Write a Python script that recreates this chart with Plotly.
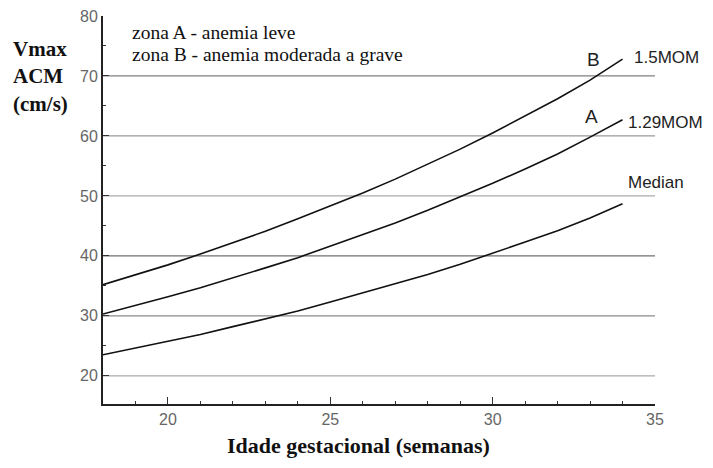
import plotly.graph_objects as go

weeks = list(range(18, 35))
median = [23.5, 24.6, 25.7, 26.9, 28.2, 29.5, 30.8, 32.3, 33.8, 35.3, 36.9, 38.6, 40.4, 42.3, 44.2, 46.3, 48.7]
mom129 = [30.3, 31.7, 33.2, 34.7, 36.3, 38.0, 39.7, 41.6, 43.5, 45.5, 47.6, 49.8, 52.1, 54.5, 57.0, 59.8, 62.7]
mom15 = [35.2, 36.8, 38.5, 40.3, 42.2, 44.1, 46.2, 48.3, 50.5, 52.8, 55.3, 57.8, 60.5, 63.3, 66.2, 69.3, 72.8]

series_names = ["Median", "1.29MOM", "1.5MOM"]
grid_vals = [20, 30, 40, 50, 60, 70]
grid_cols = ["#aaaaaa", "#8a8a8a", "#707070", "#aaaaaa", "#999999", "#808080"]
x_ticks = [20, 25, 30, 35]
y_ticks = [20, 30, 40, 50, 60, 70, 80]

fig = go.Figure()
for name, vals in zip(series_names, [median, mom129, mom15]):
    fig.add_trace(go.Scatter(x=weeks, y=vals, mode="lines", name=name,
                             line=dict(color="#111111", width=1.6), showlegend=False))

for v, c in zip(grid_vals, grid_cols):
    fig.add_shape(type="line", xref="x", yref="y", x0=18, x1=35, y0=v, y1=v,
                  line=dict(color=c, width=1.2), layer="below")

tickfont = dict(family="Liberation Sans, Arial", size=16, color="#666")
fig.update_layout(
    width=705, height=460,
    margin=dict(l=95, r=58, t=8, b=64),
    plot_bgcolor="white", paper_bgcolor="white",
    xaxis=dict(range=[18, 35], tickvals=x_ticks, showgrid=False, zeroline=False,
               showline=True, linecolor="#222", linewidth=2, automargin=False,
               ticks="inside", ticklen=7, tickwidth=1.2, tickcolor="#333",
               minor=dict(dtick=1, ticks="inside", ticklen=3, tickcolor="#333", showgrid=False),
               tickfont=tickfont, ticklabeloverflow="allow"),
    yaxis=dict(range=[15.3, 80], tickvals=y_ticks, showgrid=False, zeroline=False,
               showline=True, linecolor="#222", linewidth=2, automargin=False,
               ticks="inside", ticklen=6, tickwidth=1.2, tickcolor="#333",
               minor=dict(tick0=15, dtick=5, ticks="inside", ticklen=3, tickcolor="#333", showgrid=False),
               tickfont=tickfont, ticklabeloverflow="allow"),
)

serif = "Liberation Serif, Times New Roman, serif"
sans = "Liberation Sans, Arial, sans-serif"
anns = [
    dict(text="<b>Vmax<br>ACM<br>(cm/s)</b>", xref="paper", yref="paper", x=-0.114, y=0.845,
         xanchor="center", yanchor="middle", align="left",
         font=dict(family=serif, size=21, color="#111")),
    dict(text="<b>Idade gestacional (semanas)</b>", xref="paper", yref="paper", x=0.462, y=-0.106,
         xanchor="center", yanchor="middle", font=dict(family=serif, size=22, color="#111")),
    dict(text="zona A - anemia leve", xref="paper", yref="paper", x=0.049, y=0.958,
         xanchor="left", yanchor="middle", font=dict(family=serif, size=19.5, color="#111")),
    dict(text="zona B - anemia moderada a grave", xref="paper", yref="paper", x=0.049, y=0.902,
         xanchor="left", yanchor="middle", font=dict(family=serif, size=19.5, color="#111")),
    dict(text="1.5MOM", x=34.28, y=73.0, xanchor="left", yanchor="middle",
         font=dict(family=sans, size=17, color="#222")),
    dict(text="1.29MOM", x=34.12, y=62.3, xanchor="left", yanchor="middle",
         font=dict(family=sans, size=17, color="#222")),
    dict(text="Median", x=34.12, y=52.2, xanchor="left", yanchor="middle",
         font=dict(family=sans, size=17, color="#222")),
    dict(text="B", x=33.1, y=72.8, xanchor="center", yanchor="middle",
         font=dict(family=sans, size=19, color="#222")),
    dict(text="A", x=33.05, y=63.3, xanchor="center", yanchor="middle",
         font=dict(family=sans, size=19, color="#222")),
]
for a in anns:
    a.setdefault("xref", "x")
    a.setdefault("yref", "y")
    a["showarrow"] = False
    fig.add_annotation(**a)

fig.write_html("out.html")
